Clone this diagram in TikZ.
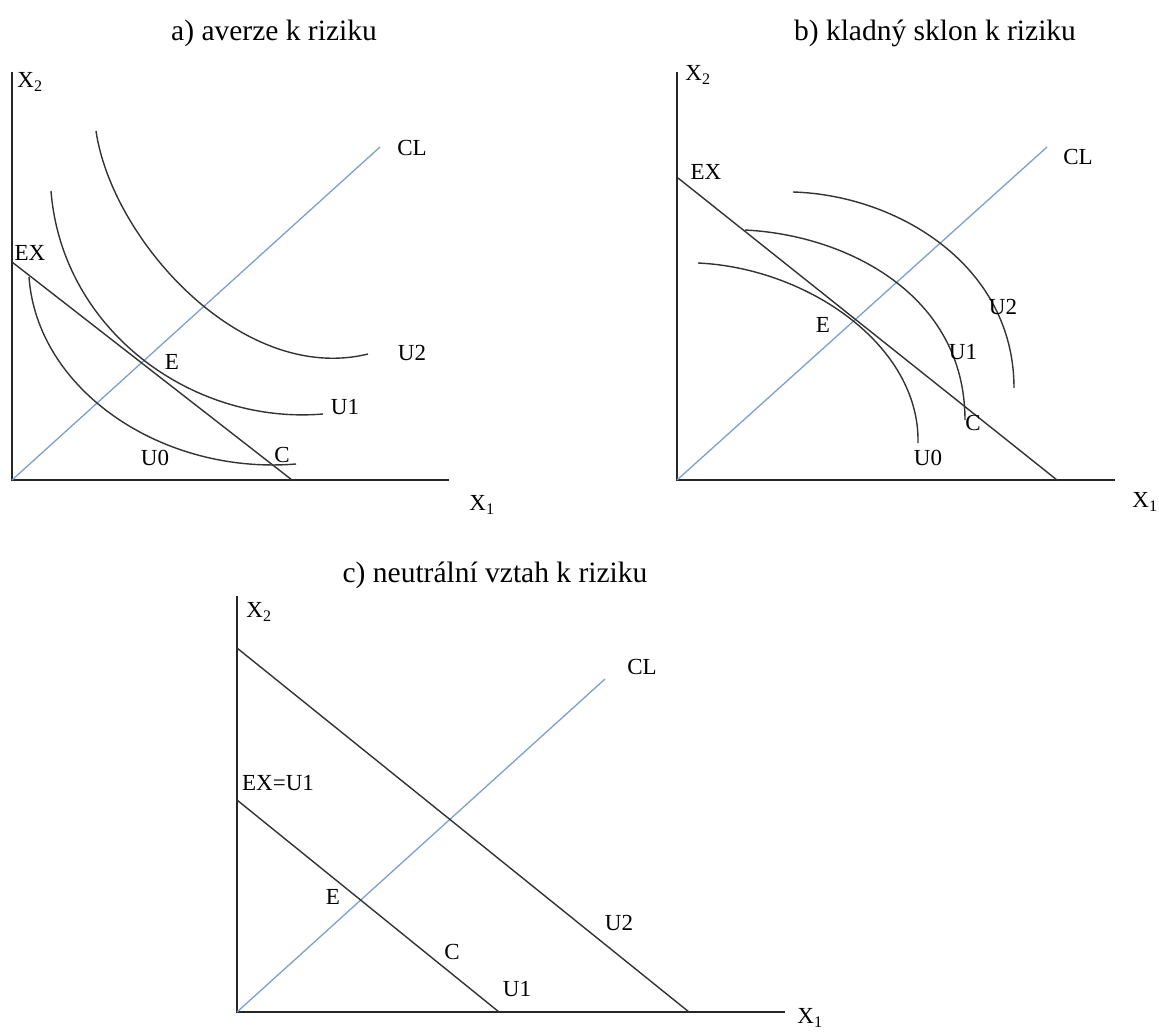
\documentclass[tikz,border=0pt]{standalone}
\usepackage{fontspec}
\setmainfont{Liberation Serif}
\definecolor{clblue}{RGB}{125,160,208}
\tikzset{
  lbl/.style={font=\fontsize{23}{26}\selectfont, inner sep=0pt},
  ttl/.style={font=\fontsize{29.5}{33}\selectfont, inner sep=0pt},
  axis/.style={line width=1.8pt, black!85},
  curve/.style={line width=1.4pt, black!80},
  cline/.style={line width=1.3pt, clblue},
}
\begin{document}
\begin{tikzpicture}[x=1pt,y=-1pt]
\useasboundingbox[fill=white] (0,0) rectangle (1159,1031);

% ---------- panel a ----------
\node[ttl] (ta) at (274,33) {a) averze k riziku};
\coordinate (aO) at (12,480);
\coordinate (aYt) at (12,72);
\coordinate (aXr) at (449,480);
\coordinate (aCL) at (380,147);
\coordinate (aEX) at (12,262);
\coordinate (aEXb) at (292,480);
\draw[axis] (aYt) -- (aO) -- (aXr);
\draw[cline] (aO) -- (aCL);
\draw[curve] (aEX) -- (aEXb);
\coordinate (aU0s) at (29,277);  \coordinate (aU0e) at (296,464);
\coordinate (aU1s) at (51,191);  \coordinate (aU1e) at (323,414);
\coordinate (aU2s) at (96,131);  \coordinate (aU2e) at (368,354);
\draw[curve] (aU0s) .. controls (37,390) and (162,475) .. (aU0e);
\draw[curve] (aU1s) .. controls (62,330) and (192,425) .. (aU1e);
\draw[curve] (aU2s) .. controls (112,240) and (242,385) .. (aU2e);
\node[lbl] (aX2) at (30,82) {X\textsubscript{2}};
\node[lbl] (aX1) at (482,505) {X\textsubscript{1}};
\node[lbl] (aEXl) at (30,253) {EX};
\node[lbl] (aCLl) at (412,148) {CL};
\node[lbl] (aU2) at (412,353) {U2};
\node[lbl] (aU1) at (345,407) {U1};
\node[lbl] (aE) at (172,362) {E};
\node[lbl] (aU0) at (155,458) {U0};
\node[lbl] (aC) at (282,455) {C};

% ---------- panel b ----------
\node[ttl] (tb) at (935,33) {b) kladný sklon k riziku};
\coordinate (bO) at (677,480);
\coordinate (bYt) at (677,72);
\coordinate (bXr) at (1115,480);
\coordinate (bCL) at (1047,147);
\coordinate (bEX) at (678,178);
\coordinate (bEXb) at (1057,480);
\draw[axis] (bYt) -- (bO) -- (bXr);
\draw[cline] (bO) -- (bCL);
\draw[curve] (bEX) -- (bEXb);
\coordinate (bU0s) at (698,263);  \coordinate (bU0e) at (918,443);
\coordinate (bU1s) at (745,230);  \coordinate (bU1e) at (965,420);
\coordinate (bU2s) at (793,192);  \coordinate (bU2e) at (1014,388);
\draw[curve] (bU0s) .. controls (807,268) and (920,345) .. (bU0e);
\draw[curve] (bU1s) .. controls (847,235) and (965,295) .. (bU1e);
\draw[curve] (bU2s) .. controls (897,195) and (1014,265) .. (bU2e);
\node[lbl] (bX2) at (698,75) {X\textsubscript{2}};
\node[lbl] (bX1) at (1145,502) {X\textsubscript{1}};
\node[lbl] (bEXl) at (706,172) {EX};
\node[lbl] (bCLl) at (1078,157) {CL};
\node[lbl] (bE) at (823,325) {E};
\node[lbl] (bU1) at (963,352) {U1};
\node[lbl] (bU2) at (1003,307) {U2};
\node[lbl] (bC) at (973,423) {C};
\node[lbl] (bU0) at (928,458) {U0};

% ---------- panel c ----------
\node[ttl] (tc) at (495,575) {c) neutrální vztah k riziku};
\coordinate (cO) at (237,1012);
\coordinate (cYt) at (237,596);
\coordinate (cXr) at (785,1012);
\coordinate (cCL) at (605,679);
\coordinate (cU2t) at (237,648);
\coordinate (cU2b) at (689,1012);
\coordinate (cEX) at (237,800);
\coordinate (cEXb) at (499,1012);
\draw[axis] (cYt) -- (cO) -- (cXr);
\draw[cline] (cO) -- (cCL);
\draw[curve] (cU2t) -- (cU2b);
\draw[curve] (cEX) -- (cEXb);
\node[lbl] (cX2) at (259,612) {X\textsubscript{2}};
\node[lbl] (cX1) at (810,1018) {X\textsubscript{1}};
\node[lbl] (cEXl) at (278,783) {EX=U1};
\node[lbl] (cCLl) at (642,667) {CL};
\node[lbl] (cE) at (333,897) {E};
\node[lbl] (cU2) at (619,923) {U2};
\node[lbl] (cC) at (452,952) {C};
\node[lbl] (cU1) at (517,989) {U1};
\end{tikzpicture}
\end{document}
